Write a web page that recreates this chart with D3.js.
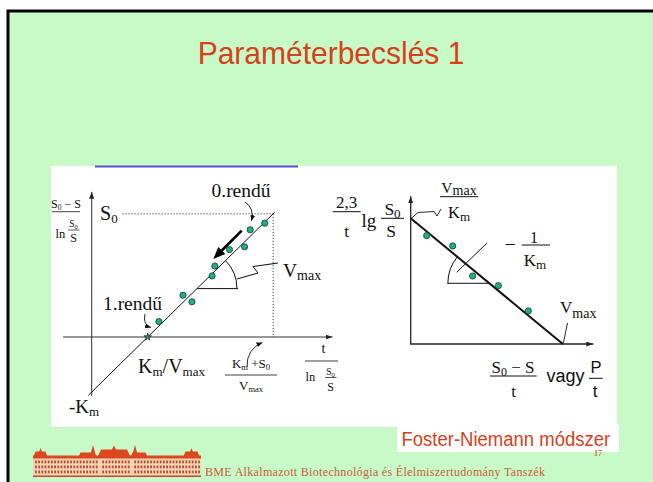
<!DOCTYPE html>
<html><head><meta charset="utf-8">
<script src="https://cdn.jsdelivr.net/npm/d3@7"></script>
<style>html,body{margin:0;padding:0;background:#fff;} svg{display:block;}</style>
</head><body>
<svg id="slide" width="653" height="482"></svg>
<script>
// Left plot: (S0-S)/ln(S0/S) against t/ln(S0/S), straight line y = Vmax*x - Km
const lwKm = 1, lwVmax = 1, lwS0 = 2.24;
const lwPtsX = [3.09, 2.83, 2.73, 2.46, 2.20, 2.15, 1.63, 1.79, 1.20];
const lwPtsY = [2.07, 1.95, 1.64, 1.59, 1.29, 1.11, 0.76, 0.64, 0.28];
// Right plot (Foster-Niemann): 2.3/t lg(S0/S) against (S0-S)/t, line y = Vmax/Km - x/Km
const fnKm = 1, fnVmax = 10;
const fnPtsX = [1.05, 2.76, 4.07, 5.76, 7.73];
const fnPtsY = [8.62, 7.80, 5.41, 4.64, 2.63];

const W = 653, H = 482;
const SERIF = '"Liberation Serif","Times New Roman",serif';
const SANS = '"Liberation Sans",Arial,sans-serif';
const RED = '#d7401a';
const svg = d3.select('#slide');

// slide background and frame
svg.append('rect').attr('width', W).attr('height', H).attr('fill', '#fff');
svg.append('rect').attr('x', 8).attr('y', 11).attr('width', W - 8).attr('height', H - 11).attr('fill', '#c8fac8');
svg.append('path').attr('d', 'M8,482 V11 H653').attr('fill', 'none').attr('stroke', '#000').attr('stroke-width', 3);

svg.append('text').attr('x', 331).attr('y', 64).attr('text-anchor', 'middle')
  .attr('font-family', SANS).attr('font-size', 30).attr('fill', RED)
  .attr('transform', 'translate(0,64) scale(1,1.06) translate(0,-64)')
  .text('Paraméterbecslés 1');

// white figure panel
svg.append('rect').attr('x', 51).attr('y', 166).attr('width', 566).attr('height', 261).attr('fill', '#fff');
svg.append('line').attr('x1', 95).attr('x2', 298).attr('y1', 166.5).attr('y2', 166.5)
  .attr('stroke', '#5252d8').attr('stroke-width', 2);

// markers
const defs = svg.append('defs');
function marker(id, len, wid, color) {
  defs.append('marker').attr('id', id).attr('viewBox', `0 0 ${len} ${wid}`)
    .attr('refX', len).attr('refY', wid / 2).attr('markerWidth', len).attr('markerHeight', wid)
    .attr('markerUnits', 'userSpaceOnUse').attr('orient', 'auto')
    .append('path').attr('d', `M0,0 L${len},${wid / 2} L0,${wid} Z`).attr('fill', color);
}
marker('axArrow', 7, 5, '#222');
marker('cvArrow', 6, 5, '#111');

// text helper: parts = [[text, size, dy-from-baseline], ...]
function rich(g, x, y, parts, anchor, family) {
  const t = g.append('text').attr('x', x).attr('y', y)
    .attr('text-anchor', anchor || 'start').attr('font-family', family || SERIF).attr('fill', '#111');
  let cur = 0;
  parts.forEach(p => {
    const s = t.append('tspan').attr('font-size', p[1]).text(p[0]);
    const off = p[2] || 0;
    if (off !== cur) s.attr('dy', off - cur);
    cur = off;
  });
  return t;
}
function hbar(g, x1, x2, y, w) {
  g.append('line').attr('x1', x1).attr('x2', x2).attr('y1', y).attr('y2', y)
    .attr('stroke', '#111').attr('stroke-width', w || 0.9);
}

// ---------------- left plot ----------------
const L = svg.append('g');
const xL = d3.scaleLinear().domain([0, 4]).range([91.7, 315.7]);
const yL = d3.scaleLinear().domain([0, 4]).range([337, 117]);

L.append('line').attr('x1', xL(-0.51)).attr('x2', xL(4.3)).attr('y1', yL(0)).attr('y2', yL(0))
  .attr('stroke', '#333').attr('stroke-width', 1).attr('marker-end', 'url(#axArrow)');
L.append('line').attr('x1', xL(0)).attr('x2', xL(0)).attr('y1', yL(-1.07)).attr('y2', yL(2.64))
  .attr('stroke', '#333').attr('stroke-width', 1).attr('marker-end', 'url(#axArrow)');

// dotted guides at S0 and (Km+S0)/Vmax
const xEnd = (lwKm + lwS0) / lwVmax;
L.append('line').attr('x1', xL(0.55)).attr('x2', xL(xEnd)).attr('y1', yL(lwS0)).attr('y2', yL(lwS0))
  .attr('stroke', '#444').attr('stroke-width', 1).attr('stroke-dasharray', '1.2,1.8');
L.append('line').attr('x1', xL(xEnd)).attr('x2', xL(xEnd)).attr('y1', yL(lwS0)).attr('y2', yL(0))
  .attr('stroke', '#444').attr('stroke-width', 1).attr('stroke-dasharray', '1.2,1.8');

// fitted line
const lwLine = d3.line().x(d => xL(d)).y(d => yL(lwVmax * d - lwKm));
L.append('path').attr('d', lwLine([-0.06, 3.27])).attr('fill', 'none').attr('stroke', '#111').attr('stroke-width', 1);

// slope angle
const yA = 0.88, xA = (yA + lwKm) / lwVmax;
const ang = Math.atan2(yL(0) - yL(lwVmax), xL(1) - xL(0));
L.append('line').attr('x1', xL(xA)).attr('x2', xL(xA) + 41).attr('y1', yL(yA)).attr('y2', yL(yA))
  .attr('stroke', '#111').attr('stroke-width', 1);
const pa = d3.path();
pa.moveTo(xL(xA) + 40 * Math.cos(-ang), yL(yA) + 40 * Math.sin(-ang));
pa.arc(xL(xA), yL(yA), 40, -ang, 0);
L.append('path').attr('d', pa.toString()).attr('fill', 'none').attr('stroke', '#111').attr('stroke-width', 1);
L.append('path').attr('d', 'M237,279 L258,273 L253,266.5 L278,263').attr('fill', 'none')
  .attr('stroke', '#111').attr('stroke-width', 1);

// km/vmax intercept marker
L.append('path').attr('d', d3.symbol(d3.symbolStar, 18)()).attr('transform', `translate(${xL(lwKm / lwVmax)},${yL(0)})`)
  .attr('fill', '#2a8a6a').attr('stroke', '#111').attr('stroke-width', 0.6);

// measured points
L.selectAll('circle.p').data(lwPtsX.map((x, i) => [x, lwPtsY[i]])).join('circle')
  .attr('cx', d => xL(d[0])).attr('cy', d => yL(d[1])).attr('r', 3.1)
  .attr('fill', '#22b07c').attr('stroke', '#0e3a2c').attr('stroke-width', 0.8);

// thick direction arrow
(function () {
  const x1 = 241.7, y1 = 230.7, x2 = 213.3, y2 = 259;
  const a = Math.atan2(y2 - y1, x2 - x1), len = 12, wid = 5;
  const bx = x2 - len * Math.cos(a), by = y2 - len * Math.sin(a);
  L.append('line').attr('x1', x1).attr('y1', y1).attr('x2', bx).attr('y2', by).attr('stroke', '#000').attr('stroke-width', 2.6);
  L.append('path').attr('d', `M${x2},${y2} L${bx + wid * Math.sin(a)},${by - wid * Math.cos(a)} L${bx - wid * Math.sin(a)},${by + wid * Math.cos(a)} Z`).attr('fill', '#000');
})();

// curved pointers
['M245,202 Q254.5,208 251.5,221', 'M145,314 Q142.5,325 151,327.5', 'M247,367 Q246.5,349 262.5,342.5'].forEach(d => {
  L.append('path').attr('d', d).attr('fill', 'none').attr('stroke', '#111').attr('stroke-width', 0.9).attr('marker-end', 'url(#cvArrow)');
});

// labels
rich(L, 66, 208, [['S', 12], ['0', 7.5, 2], [' \u2212 S', 12, 0]], 'middle');
hbar(L, 52, 80, 211.7, 0.8);
rich(L, 55.5, 238, [['ln', 12.5]]);
rich(L, 73.5, 227, [['S', 9.5], ['0', 6.5, 1.5]], 'middle');
hbar(L, 68, 79.5, 230, 0.7);
rich(L, 73.5, 241.5, [['S', 12]], 'middle');

rich(L, 100, 220, [['S', 20], ['0', 13, 3]]);
rich(L, 211.5, 196.5, [['0.rendű', 19.5]]);
rich(L, 103, 310, [['1.rendű', 19.5]]);
rich(L, 283, 277, [['V', 19.5], ['max', 14, 2.5]]);
rich(L, 138, 373, [['K', 20], ['m', 13, 3], ['/V', 20, 0], ['max', 13, 3]]);
rich(L, 251, 368, [['K', 13], ['m', 8.5, 2], [' +S', 13, 0], ['0', 8.5, 2]], 'middle');
hbar(L, 225, 277, 375, 0.8);
rich(L, 251, 390, [['V', 13], ['max', 8.5, 2]], 'middle');
rich(L, 69, 413, [['-K', 19], ['m', 13, 3]]);

rich(L, 323.5, 353, [['t', 14]], 'middle');
hbar(L, 305, 338, 361, 0.8);
rich(L, 305.5, 381, [['ln', 12.5]]);
rich(L, 330.5, 375, [['S', 9.5], ['0', 6.5, 1.5]], 'middle');
hbar(L, 325, 336.5, 377.5, 0.7);
rich(L, 330.5, 390.5, [['S', 12]], 'middle');

// ---------------- right plot ----------------
const R = svg.append('g');
const xR = d3.scaleLinear().domain([0, 12]).range([410.7, 593.3]);
const yR = d3.scaleLinear().domain([0, 10]).range([344, 218.3]);

R.append('line').attr('x1', xR(0)).attr('x2', xR(12)).attr('y1', yR(0)).attr('y2', yR(0))
  .attr('stroke', '#222').attr('stroke-width', 1.3).attr('marker-end', 'url(#axArrow)');
R.append('line').attr('x1', xR(0)).attr('x2', xR(0)).attr('y1', yR(0) + 0.6).attr('y2', yR(11.75))
  .attr('stroke', '#222').attr('stroke-width', 1.3).attr('marker-end', 'url(#axArrow)');

const fnLine = d3.line().x(d => xR(d)).y(d => yR(fnVmax / fnKm - d / fnKm));
R.append('path').attr('d', fnLine([0, fnVmax])).attr('fill', 'none').attr('stroke', '#111').attr('stroke-width', 2);

// slope angle (between the leftward horizontal and the falling line)
const yB = 4.83, xB = fnVmax - yB * fnKm;
const alpha = Math.atan2(yR(0) - yR(1 / fnKm), xR(1) - xR(0));
const rA = 41.5;
R.append('line').attr('x1', xR(xB)).attr('x2', xR(xB) - 42).attr('y1', yR(yB)).attr('y2', yR(yB))
  .attr('stroke', '#111').attr('stroke-width', 1);
const pr = d3.path();
pr.moveTo(xR(xB) - rA, yR(yB));
pr.arc(xR(xB), yR(yB), rA, Math.PI, Math.PI + alpha, false);
R.append('path').attr('d', pr.toString()).attr('fill', 'none').attr('stroke', '#111').attr('stroke-width', 1);
R.append('line').attr('x1', 486.7).attr('y1', 243.3).attr('x2', 456.7).attr('y2', 272.3).attr('stroke', '#111').attr('stroke-width', 1);

R.selectAll('circle.p').data(fnPtsX.map((x, i) => [x, fnPtsY[i]])).join('circle')
  .attr('cx', d => xR(d[0])).attr('cy', d => yR(d[1])).attr('r', 3.1)
  .attr('fill', '#22b07c').attr('stroke', '#0e3a2c').attr('stroke-width', 0.8);

// intercept pointers
R.append('path').attr('d', 'M411.7,218 L418,212.5 L434,211.5 L437,216 L441,209').attr('fill', 'none').attr('stroke', '#111').attr('stroke-width', 0.9);
R.append('path').attr('d', `M${xR(fnVmax) + 0.5},${yR(0) - 1} L567.5,323`).attr('fill', 'none').attr('stroke', '#111').attr('stroke-width', 0.9);

// labels
rich(R, 346.7, 208, [['2,3', 17]], 'middle');
hbar(R, 332.7, 360.7, 211.7, 1);
rich(R, 346.7, 236.7, [['t', 17]], 'middle');
rich(R, 361.5, 227, [['lg', 19]]);
rich(R, 392.5, 215, [['S', 17.5], ['0', 13, 3]], 'middle');
hbar(R, 381, 404, 218.3, 1);
rich(R, 391, 236.7, [['S', 17.5]], 'middle');

rich(R, 459, 193, [['V', 15.5], ['max', 14, 2]], 'middle');
hbar(R, 440, 478.3, 196.7, 1);
rich(R, 459, 218, [['K', 16.5], ['m', 13, 3]], 'middle');

rich(R, 504.5, 250.5, [['\u2212', 20]]);
rich(R, 534, 243.3, [['1', 16]], 'middle');
hbar(R, 521.7, 550, 245, 1);
rich(R, 535, 266, [['K', 17], ['m', 13, 3]], 'middle');

rich(R, 560, 313.3, [['V', 17], ['max', 14, 5]]);

rich(R, 513, 373, [['S', 17], ['0', 12, 3], [' \u2212 S', 17, 0]], 'middle');
hbar(R, 490, 536.7, 376, 1);
rich(R, 513.5, 396.7, [['t', 17]], 'middle');
rich(R, 546.5, 382, [['vagy', 18]], 'start', SANS);
rich(R, 596, 373, [['P', 16.5]], 'middle', SANS);
hbar(R, 589, 602.7, 378.3, 1);
rich(R, 595, 396.7, [['t', 17]], 'middle', SANS);

// ---------------- caption and footer ----------------
svg.append('rect').attr('x', 397).attr('y', 425).attr('width', 222).attr('height', 27).attr('fill', '#fff');
svg.append('text').attr('x', 401.5).attr('y', 446).attr('font-family', SANS).attr('font-size', 18.5)
  .attr('fill', RED).attr('transform', 'translate(0,446) scale(1,1.08) translate(0,-446)')
  .text('Foster-Niemann módszer');
svg.append('text').attr('x', 594).attr('y', 456).attr('font-family', SERIF).attr('font-size', 8)
  .attr('font-weight', 'bold').attr('fill', '#c87a3c').text('17');
svg.append('text').attr('x', 205).attr('y', 476).attr('font-family', SERIF).attr('font-size', 12)
  .attr('fill', '#c4603e').attr('textLength', 340).attr('lengthAdjust', 'spacing')
  .text('BME Alkalmazott Biotechnológia és Élelmiszertudomány Tanszék');

// university building emblem
const B = svg.append('g');
const roof = '#dc4620', wall = '#f6d2b6', win = '#b8502c';
B.append('rect').attr('x', 33).attr('y', 458).attr('width', 168).attr('height', 19).attr('fill', wall);
B.append('rect').attr('x', 33).attr('y', 455.5).attr('width', 168).attr('height', 3).attr('fill', roof);
[[33, 48, 451.5], [78, 96, 452.5], [130, 148, 452.5], [183, 200, 451.5]].forEach(p => {
  B.append('path').attr('d', `M${p[0]},458 L${p[0] + 2.5},${p[2]} L${p[1] - 2.5},${p[2]} L${p[1]},458 Z`).attr('fill', roof);
});
B.append('path').attr('d', 'M97,458 L101,449.5 L127,449.5 L131,458 Z').attr('fill', roof);
B.append('path').attr('d', 'M111.5,450 L114,445.5 L116.5,450 Z').attr('fill', roof);
[[93, 445], [135, 445], [40.5, 448], [191.5, 448]].forEach(p => {
  B.append('path').attr('d', `M${p[0] - 3},456 L${p[0]},${p[1]} L${p[0] + 3},456 Z`).attr('fill', roof);
});
[460.5, 465.5, 470.5].forEach(yy => {
  for (let xx = 35; xx < 199; xx += 3.2) {
    if (xx > 96 && xx < 100) continue;
    if (xx > 128 && xx < 132) continue;
    B.append('rect').attr('x', xx).attr('y', yy).attr('width', 1.8).attr('height', 2.8).attr('fill', win);
  }
});
B.append('rect').attr('x', 33).attr('y', 475.5).attr('width', 168).attr('height', 1.5).attr('fill', win);
</script>
</body></html>
